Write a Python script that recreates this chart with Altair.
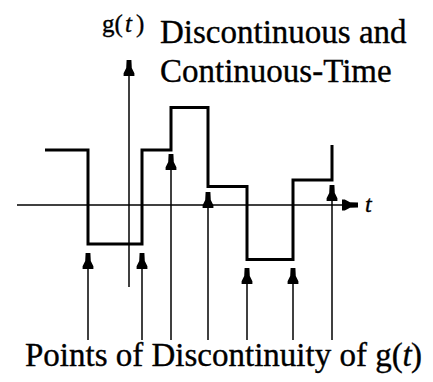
import altair as alt
import pandas as pd

# ---- data (diagram units) ----
step_times = [-4.2, -2.05, 0.65, 2.1, 3.95, 5.9, 8.2, 10.15]
step_levels = [2.75, -1.95, 2.75, 4.875, 0.925, -2.725, 1.25, 3.0]

disc_times = [-2.05, 0.65, 2.1, 3.95, 5.9, 8.2, 10.15]
disc_tips = [-2.4, -2.4, 2.55, 0.65, -3.15, -3.15, 1.0]
stem_base = -6.75

yaxis_range = [-4.1, 7.25]
xaxis_range = [-5.6, 11.45]

big_labels = ["Discontinuous and", "Continuous-Time", "Points of Discontinuity of g("]
big_label_t = [1.55, 1.55, -5.2]
big_label_g = [8.1, 6.15, -8.05]

W, H = 417, 366
XS = alt.Scale(domain=[-6.05, -6.05 + W / 20], nice=False, zero=False)
YS = alt.Scale(domain=[9.85 - H / 20, 9.85], nice=False, zero=False)
FONT = "Liberation Serif"
ARROW = "M-0.6,0 L0.6,0 L0.7,2 L1.35,3.3 L1.35,4 L-1.35,4 L-1.35,3.3 L-0.7,2 Z"
TXT = dict(align="left", baseline="alphabetic", font=FONT, color="black",
           stroke="black", strokeWidth=0.35)


def xe(f="t"):
    return alt.X(f"{f}:Q", scale=XS, axis=None)


def ye(f="g"):
    return alt.Y(f"{f}:Q", scale=YS, axis=None)


sig = pd.DataFrame({"t": step_times, "g": step_levels})
signal = alt.Chart(sig).mark_line(
    interpolate="step-after", strokeWidth=3, color="black",
    strokeJoin="miter", strokeCap="butt"
).encode(x=xe(), y=ye())

ax_y = alt.Chart(pd.DataFrame({"t": [0], "g": [yaxis_range[0]], "g2": [yaxis_range[1]]})).mark_rule(
    strokeWidth=1.5, color="black").encode(x=xe(), y=ye(), y2="g2:Q")
ax_x = alt.Chart(pd.DataFrame({"t": [xaxis_range[0]], "t2": [xaxis_range[1]], "g": [0]})).mark_rule(
    strokeWidth=1.5, color="black").encode(x=xe(), x2="t2:Q", y=ye())

head_y = alt.Chart(pd.DataFrame({"t": [0], "g": [yaxis_range[1]]})).mark_point(
    shape=ARROW, size=64, filled=True, color="black", opacity=1, strokeWidth=0
).encode(x=xe(), y=ye())
head_x = alt.Chart(pd.DataFrame({"t": [xaxis_range[1]], "g": [0]})).mark_point(
    shape=ARROW, size=64, filled=True, color="black", opacity=1, strokeWidth=0, angle=90
).encode(x=xe(), y=ye())

disc = pd.DataFrame({"t": disc_times, "g": [stem_base] * len(disc_times), "g2": disc_tips})
stems = alt.Chart(disc).mark_rule(strokeWidth=1.5, color="black").encode(
    x=xe(), y=ye(), y2="g2:Q")
heads = alt.Chart(disc).mark_point(
    shape=ARROW, size=64, filled=True, color="black", opacity=1, strokeWidth=0
).encode(x=xe(), y=ye("g2"))

big = pd.DataFrame({"t": big_label_t, "g": big_label_g, "label": big_labels})
big_text = alt.Chart(big).mark_text(fontSize=33, **TXT).encode(
    x=xe(), y=ye(), text="label:N")

# bottom label pieces after "g("
bot_rest = pd.DataFrame({"t": [14.1], "g": [-8.05], "label": [")"]})
bot_rest_text = alt.Chart(bot_rest).mark_text(fontSize=33, **TXT).encode(
    x=xe(), y=ye(), text="label:N")
bot_t = alt.Chart(pd.DataFrame({"t": [13.68], "g": [-8.05], "label": ["t"]})).mark_text(
    fontSize=33, fontStyle="italic", **TXT
).encode(x=xe(), y=ye(), text="label:N")

# g(t) at top of vertical axis
gt_norm = pd.DataFrame({"t": [-1.35, 0.35], "g": [8.65, 8.65], "label": ["g(", ")"]})
gt_text = alt.Chart(gt_norm).mark_text(fontSize=25, **TXT).encode(
    x=xe(), y=ye(), text="label:N")
gt_it = alt.Chart(pd.DataFrame({"t": [-0.2, 11.8], "g": [8.65, -0.35], "label": ["t", "t"],
                                "fs": [25, 24]})).mark_text(
    fontStyle="italic", **TXT
).encode(x=xe(), y=ye(), text="label:N", size=alt.Size("fs:Q", scale=None, legend=None))

chart = alt.layer(
    ax_x, ax_y, head_y, head_x, stems, heads, signal,
    big_text, bot_rest_text, bot_t, gt_text, gt_it
).properties(
    width=W, height=H, padding=0, autosize="none", background="white"
).configure_view(stroke=None)

chart.save("out.html", embed_options={"renderer": "svg", "actions": False})
